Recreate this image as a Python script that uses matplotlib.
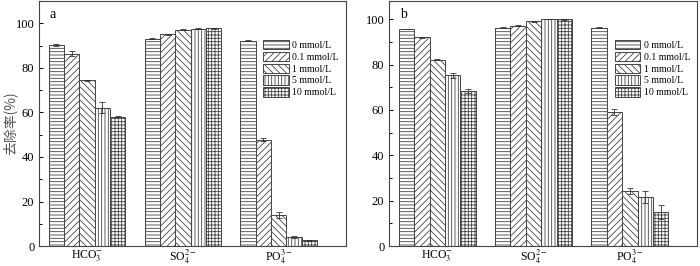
import numpy as np
import matplotlib
matplotlib.use("Agg")
import matplotlib.pyplot as plt

plt.rcParams['font.family'] = ['Liberation Serif', 'DejaVu Serif']
plt.rcParams['mathtext.fontset'] = 'stix'
plt.rcParams['hatch.color'] = '#555555'
plt.rcParams['hatch.linewidth'] = 0.6

categories = [r'HCO$_3^{-}$', r'SO$_4^{2-}$', r'PO$_4^{3-}$']
series = ['0 mmol/L', '0.1 mmol/L', '1 mmol/L', '5 mmol/L', '10 mmol/L']

# panel a: values[series][category]
a_vals = [
    [90.3, 93.1, 92.1],
    [86.4, 95.1, 47.7],
    [74.4, 97.2, 13.9],
    [62.1, 97.6, 4.0],
    [58.1, 97.8, 2.6],
]
a_err = [
    [0.3, 0.3, 0.2],
    [1.2, 0.3, 0.6],
    [0.3, 0.2, 1.3],
    [2.4, 0.2, 0.4],
    [0.2, 0.2, 0.3],
]
b_vals = [
    [95.7, 96.3, 96.3],
    [92.1, 97.2, 58.9],
    [82.2, 99.0, 24.3],
    [75.2, 100.0, 21.6],
    [68.4, 99.9, 15.0],
]
b_err = [
    [0.2, 0.3, 0.3],
    [0.2, 0.3, 1.3],
    [0.2, 0.2, 1.5],
    [1.3, 0.1, 2.5],
    [0.8, 0.1, 3.0],
]
hatches = ['-----', '/////', '\\\\\\\\\\', '|||||', '+++++']

fig = plt.figure(figsize=(7.0, 2.66), dpi=100)
ax1 = fig.add_axes([0.056, 0.075, 0.438, 0.921])
ax2 = fig.add_axes([0.556, 0.075, 0.440, 0.921])

w = 0.16
x = np.arange(len(categories))
for ax, vals, errs, lab, ymax in [(ax1, a_vals, a_err, 'a', 110), (ax2, b_vals, b_err, 'b', 108)]:
    for i, (v, e) in enumerate(zip(vals, errs)):
        pos = x + (i - 2) * w
        ax.bar(pos, v, width=w, facecolor='white', edgecolor='#444444', linewidth=0.7,
               hatch=hatches[i], label=series[i])
        ax.errorbar(pos, v, yerr=e, fmt='none', ecolor='#333333', elinewidth=0.6,
                    capsize=2, capthick=0.6)
    ax.set_xlim(-0.5, 2.7)
    ax.set_ylim(0, ymax)
    ax.set_xticks(x)
    ax.set_xticklabels(categories, fontsize=8.5)
    ax.set_yticks([0, 20, 40, 60, 80, 100])
    ax.set_yticks(np.arange(10, 110, 20), minor=True)
    ax.tick_params(axis='y', which='major', direction='in', length=3, labelsize=9, width=0.7)
    ax.tick_params(axis='y', which='minor', direction='in', length=2, width=0.7)
    ax.tick_params(axis='x', length=0, labelsize=8.5, pad=1.5)
    for s in ax.spines.values():
        s.set_linewidth(0.8)
        s.set_color('#444444')
    ax.text(0.035, 0.97, lab, transform=ax.transAxes, fontsize=10, va='top', ha='left')
    ax.legend(loc='upper right', bbox_to_anchor=(1.0, 0.87), frameon=False, fontsize=7,
              handlelength=2.6, handleheight=1.1, handletextpad=0.4, labelspacing=0.2,
              borderaxespad=0.3)

ax1.set_ylabel('去除率(%)', family=['Noto Sans CJK SC', 'DejaVu Sans'], fontsize=10,
               color='#555555')
ax1.yaxis.set_label_coords(-0.07, 0.5)

fig.savefig('out.png', dpi=100)
